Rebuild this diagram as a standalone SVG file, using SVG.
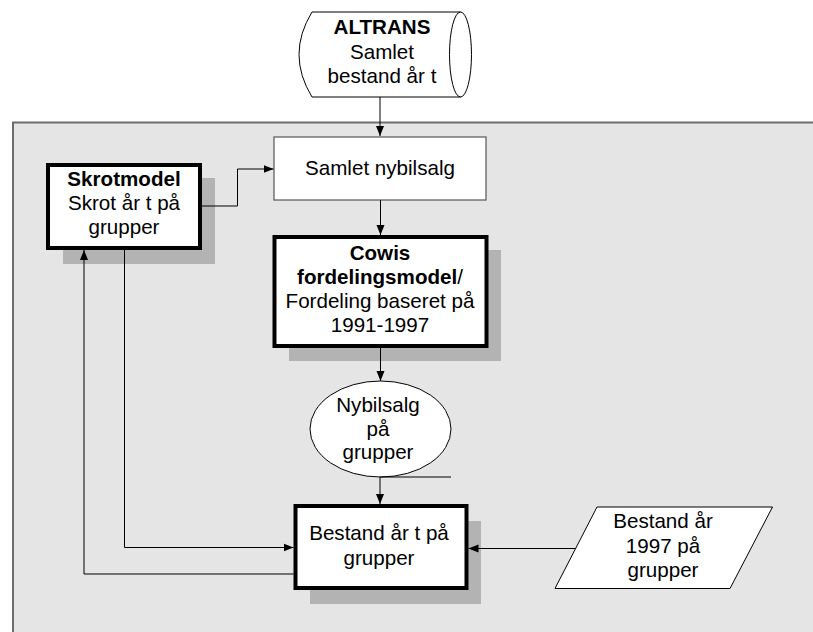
<svg xmlns="http://www.w3.org/2000/svg" width="813" height="632" viewBox="0 0 813 632">
<defs>
<marker id="ah" viewBox="0 0 10 10" refX="10" refY="5" markerWidth="10" markerHeight="10" markerUnits="userSpaceOnUse" orient="auto">
<path d="M0,1 L10,5 L0,9 Z" fill="#000"/>
</marker>
<style>
text{font-family:"Liberation Sans",Arial,sans-serif;font-size:20.6px;fill:#000;text-anchor:middle}
.b{font-weight:bold}
.shadow{fill:#b3b3b3}
.thick{fill:#fff;stroke:#000;stroke-width:4}
.thin{fill:#fff;stroke:#000;stroke-width:1}
.conn{fill:none;stroke:#000;stroke-width:1}
</style>
</defs>
<rect id="background" x="13" y="122.5" width="820" height="530" fill="#e5e5e5" stroke="#6e6e6e" stroke-width="2"/>

<g id="altrans">
<path class="thin" d="M312,12 L460.5,12 A11,42.5 0 0 1 460.5,97 L312,97 Q286,54.5 312,12 Z"/>
<path class="conn" d="M460.5,12 A11,42.5 0 0 0 460.5,97"/>
<text x="382" y="34" class="b">ALTRANS</text>
<text x="382" y="59">Samlet</text>
<text x="382" y="83">bestand år t</text>
</g>

<g id="samlet-nybilsalg">
<rect x="274" y="137" width="212" height="63" fill="#fff" stroke="#555" stroke-width="1.2"/>
<text x="380" y="175">Samlet nybilsalg</text>
</g>

<g id="skrotmodel">
<rect class="shadow" x="63" y="178" width="152" height="86"/>
<rect class="thick" x="48" y="165" width="152" height="83"/>
<text x="124" y="186" class="b">Skrotmodel</text>
<text x="124" y="210">Skrot år t på</text>
<text x="124" y="234">grupper</text>
</g>

<g id="cowis">
<rect class="shadow" x="289" y="250" width="212" height="111"/>
<rect class="thick" x="274.5" y="237" width="212" height="109"/>
<text x="380" y="260" class="b">Cowis</text>
<text x="380" y="284"><tspan class="b">fordelingsmodel</tspan>/</text>
<text x="380" y="308">Fordeling baseret på</text>
<text x="380" y="332">1991-1997</text>
</g>

<g id="nybilsalg">
<ellipse class="thin" cx="380.5" cy="429" rx="70.5" ry="48"/>
<text x="378" y="412">Nybilsalg</text>
<text x="378" y="436">på</text>
<text x="378" y="459">grupper</text>
</g>

<g id="bestand">
<rect class="shadow" x="310" y="521" width="171" height="83"/>
<rect class="thick" x="295.5" y="506" width="171" height="82"/>
<text x="379" y="540">Bestand år t på</text>
<text x="379" y="565">grupper</text>
</g>

<g id="bestand-1997">
<path class="thin" d="M597,507 L772.5,507 L730,588.5 L555,588.5 Z"/>
<text x="663" y="528">Bestand år</text>
<text x="663" y="553">1997 på</text>
<text x="663" y="577">grupper</text>
</g>

<g id="connectors">
<path class="conn" d="M380,97 L380,136" marker-end="url(#ah)"/>
<path class="conn" d="M380.5,200 L380.5,235" marker-end="url(#ah)"/>
<path class="conn" d="M380.5,348 L380.5,381" marker-end="url(#ah)"/>
<path class="conn" d="M380,477 L451,477"/>
<path class="conn" d="M380,477 L380,504" marker-end="url(#ah)"/>
<path class="conn" d="M202,206 L237.5,206 L237.5,169 L273.5,169" marker-end="url(#ah)"/>
<path class="conn" d="M124.5,250 L124.5,547.5 L293.5,547.5" marker-end="url(#ah)"/>
<path class="conn" d="M293.5,574 L84,574 L84,250" marker-end="url(#ah)"/>
<path class="conn" d="M575,548.5 L468.5,548.5" marker-end="url(#ah)"/>
</g>
</svg>
